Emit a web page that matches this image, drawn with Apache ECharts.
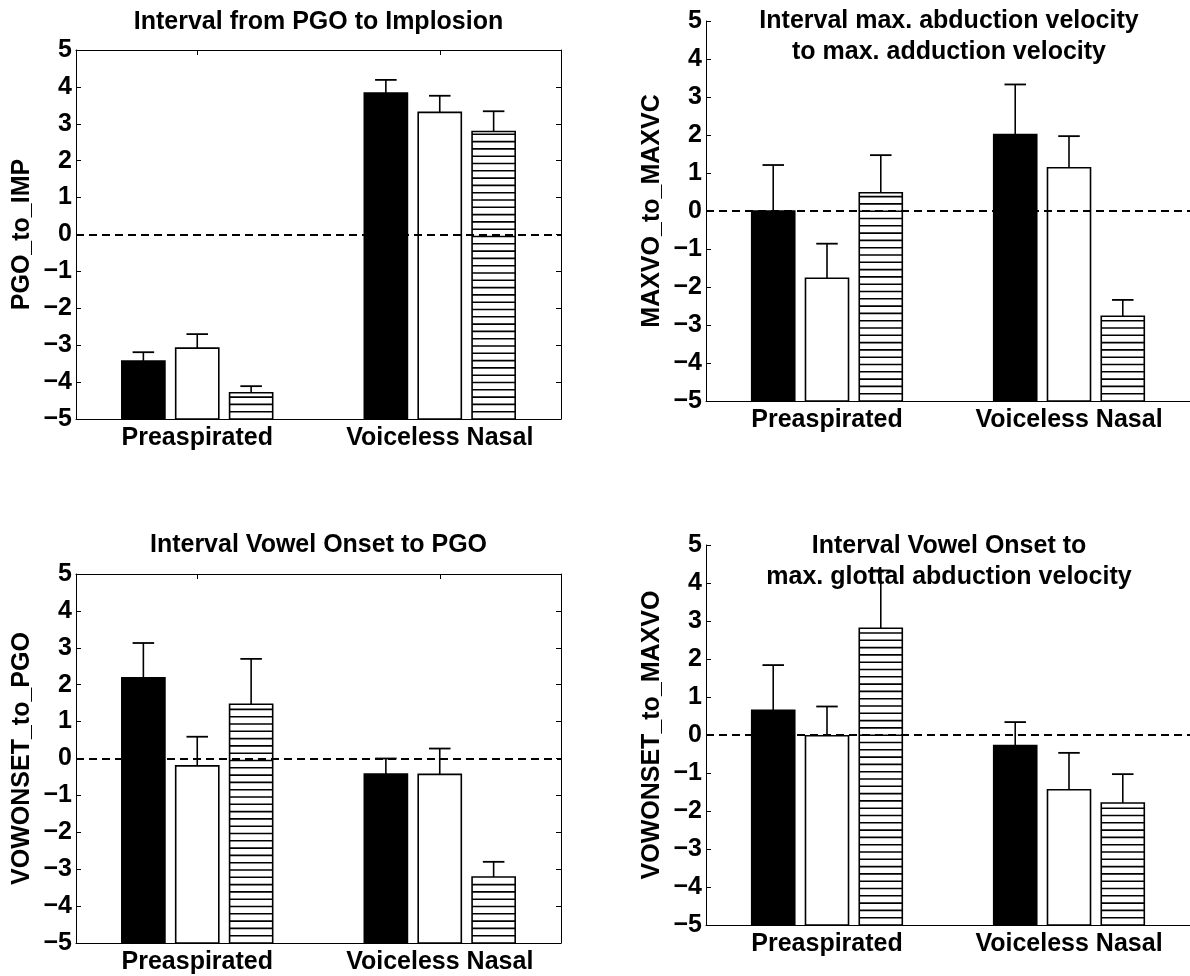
<!DOCTYPE html>
<html><head><meta charset="utf-8">
<script src="https://cdn.jsdelivr.net/npm/echarts@6/dist/echarts.min.js"></script>
<style>html,body{margin:0;padding:0;background:#fff}#c{width:1190px;height:976px}</style>
</head><body><div id="c"></div>
<script>
// ---------- data ----------
const categories = ['Preaspirated', 'Voiceless Nasal'];
const yTicks = [-5, -4, -3, -2, -1, 0, 1, 2, 3, 4, 5];

const titles = [
  'Interval from PGO to Implosion',
  'Interval max. abduction velocity\nto max. adduction velocity',
  'Interval Vowel Onset to PGO',
  'Interval Vowel Onset to\nmax. glottal abduction velocity'
];
const yNames = ['PGO_to_IMP', 'MAXVO_to_MAXVC', 'VOWONSET_to_PGO', 'VOWONSET_to_MAXVO'];

// panel 1: PGO_to_IMP  (bar value, upper end of error bar)
const p1Black = [-3.43, 3.83];   const p1BlackErr = [-3.19, 4.19];
const p1White = [-3.08, 3.31];   const p1WhiteErr = [-2.70, 3.76];
const p1Hatch = [-4.29, 2.79];   const p1HatchErr = [-4.11, 3.34];
// panel 2: MAXVO_to_MAXVC
const p2Black = [0.00, 2.01];    const p2BlackErr = [1.21, 3.33];
const p2White = [-1.77, 1.14];   const p2WhiteErr = [-0.86, 1.97];
const p2Hatch = [0.48, -2.77];   const p2HatchErr = [1.47, -2.34];
// panel 3: VOWONSET_to_PGO
const p3Black = [2.19, -0.42];   const p3BlackErr = [3.13, 0.00];
const p3White = [-0.20, -0.43];  const p3WhiteErr = [0.59, 0.27];
const p3Hatch = [1.47, -3.21];   const p3HatchErr = [2.70, -2.80];
// panel 4: VOWONSET_to_MAXVO
const p4Black = [0.65, -0.28];   const p4BlackErr = [1.84, 0.34];
const p4White = [-0.02, -1.44];  const p4WhiteErr = [0.75, -0.47];
const p4Hatch = [2.81, -1.79];   const p4HatchErr = [4.33, -1.03];

const panelValues = [
  [[p1Black, p1BlackErr], [p1White, p1WhiteErr], [p1Hatch, p1HatchErr]],
  [[p2Black, p2BlackErr], [p2White, p2WhiteErr], [p2Hatch, p2HatchErr]],
  [[p3Black, p3BlackErr], [p3White, p3WhiteErr], [p3Hatch, p3HatchErr]],
  [[p4Black, p4BlackErr], [p4White, p4WhiteErr], [p4Hatch, p4HatchErr]]
];

// ---------- layout / style ----------
const FONT = 'Liberation Sans';
const FS = 25;
const grids = [
  {left: 76, top: 50, width: 485, height: 369, boxed: true},
  {left: 706, top: 21, width: 485, height: 380, boxed: false},
  {left: 76, top: 574, width: 485, height: 369, boxed: true},
  {left: 706, top: 545, width: 485, height: 380, boxed: false}
];
const titlePos = [
  {x: 318.5, y: 21.7}, {x: 949, y: 36.2}, {x: 318.5, y: 545}, {x: 949, y: 561.7}
];
const fills = ['#000', '#fff', '#fff'];
const yMin = yTicks[0], yMax = yTicks[yTicks.length - 1];
const minusFmt = v => String(v).replace('-', '\u2212');

function makeRender(k, hatched, fill) {
  return function (params, api) {
    const idx = api.value(0), v = api.value(1), e = api.value(2);
    const band = api.size([1, 0])[0];
    const c = api.coord([idx, v]);
    const base = api.coord([idx, yMin]);
    const eTop = api.coord([idx, e]);
    const w = band * 0.1778;
    const cx = c[0] + (k - 1) * band * 0.2222;
    const x0 = cx - w / 2;
    const children = [{
      type: 'rect',
      shape: {x: x0, y: c[1], width: w, height: base[1] - c[1]},
      style: {fill: fill, stroke: '#000', lineWidth: 1.6}
    }];
    if (hatched) {
      for (let y = base[1] - 7.3; y > c[1] + 2; y -= 7.3) {
        children.push({type: 'line', shape: {x1: x0, y1: y, x2: x0 + w, y2: y},
          style: {stroke: '#000', lineWidth: 1.6}});
      }
    }
    children.push({type: 'line', shape: {x1: cx, y1: c[1], x2: cx, y2: eTop[1]},
      style: {stroke: '#000', lineWidth: 1.6}});
    children.push({type: 'line', shape: {x1: cx - w / 4, y1: eTop[1], x2: cx + w / 4, y2: eTop[1]},
      style: {stroke: '#000', lineWidth: 1.8}});
    return {type: 'group', children: children};
  };
}

const option = {
  animation: false,
  backgroundColor: '#fff',
  grid: [], xAxis: [], yAxis: [], series: [],
  graphic: titles.map((t, i) => ({
    type: 'text', x: titlePos[i].x, y: titlePos[i].y, z: 100,
    style: {text: t, textAlign: 'center', textVerticalAlign: 'middle',
      fontFamily: FONT, fontWeight: 'bold', fontSize: FS, lineHeight: 31, fill: '#000'}
  }))
};

const labelStyle = {color: '#000', fontFamily: FONT, fontWeight: 'bold', fontSize: FS};
const axisLineStyle = {color: '#000', width: 1};

grids.forEach((g, gi) => {
  option.grid.push({left: g.left, top: g.top, width: g.width, height: g.height,
    show: false, containLabel: false});
  const xi = option.xAxis.length;
  option.xAxis.push({
    gridIndex: gi, type: 'category', data: categories, position: 'bottom',
    axisLine: {show: true, onZero: false, lineStyle: axisLineStyle},
    axisTick: {show: true, inside: true, alignWithLabel: true, length: 5, lineStyle: axisLineStyle},
    axisLabel: Object.assign({margin: 7, interval: 0, hideOverlap: false}, labelStyle),
    splitLine: {show: false}
  });
  if (g.boxed) {
    option.xAxis.push({
      gridIndex: gi, type: 'category', data: categories, position: 'top',
      axisLine: {show: true, onZero: false, lineStyle: axisLineStyle},
      axisTick: {show: true, inside: true, alignWithLabel: true, length: 5, lineStyle: axisLineStyle},
      axisLabel: {show: false}, splitLine: {show: false}
    });
  }
  const yi = option.yAxis.length;
  option.yAxis.push({
    gridIndex: gi, type: 'value', min: yMin, max: yMax, interval: 1, position: 'left',
    axisLine: {show: true, onZero: false, lineStyle: axisLineStyle},
    axisTick: {show: true, inside: true, length: 5, lineStyle: axisLineStyle},
    axisLabel: Object.assign({margin: 4, formatter: minusFmt}, labelStyle),
    splitLine: {show: false},
    name: yNames[gi], nameLocation: 'middle', nameGap: 41, nameRotate: 90,
    nameTextStyle: {color: '#000', fontFamily: FONT, fontWeight: 'bold', fontSize: FS}
  });
  if (g.boxed) {
    option.yAxis.push({
      gridIndex: gi, type: 'value', min: yMin, max: yMax, interval: 1, position: 'right',
      axisLine: {show: true, onZero: false, lineStyle: axisLineStyle},
      axisTick: {show: true, inside: true, length: 5, lineStyle: axisLineStyle},
      axisLabel: {show: false}, splitLine: {show: false}
    });
  }
  panelValues[gi].forEach((pair, k) => {
    const vals = pair[0], errs = pair[1];
    const s = {
      type: 'custom', xAxisIndex: xi, yAxisIndex: yi, z: 2,
      renderItem: makeRender(k, k === 2, fills[k]),
      data: categories.map((c, ci) => [ci, vals[ci], errs[ci]]),
      clip: false
    };
    if (k === 2) {
      s.markLine = {
        silent: true, symbol: ['none', 'none'], label: {show: false}, z: 10,
        lineStyle: {type: [8, 5], color: '#000', width: 2},
        data: [{yAxis: 0}]
      };
    }
    option.series.push(s);
  });
});

const chart = echarts.init(document.getElementById('c'), null, {renderer: 'canvas'});
chart.setOption(option);
</script>
</body></html>
